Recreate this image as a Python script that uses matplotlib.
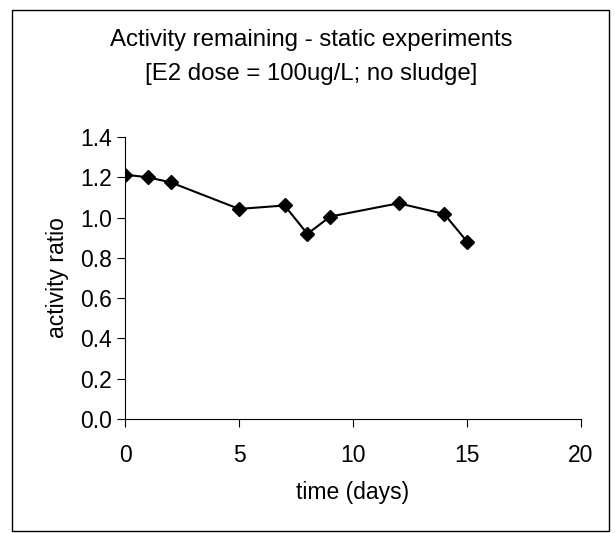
import matplotlib.pyplot as plt
from matplotlib.patches import Rectangle

plt.rcParams['font.family'] = ['Liberation Sans', 'DejaVu Sans']

days = [0, 1, 2, 5, 7, 8, 9, 12, 14, 15]
ratio = [1.213, 1.20, 1.175, 1.043, 1.06, 0.919, 1.005, 1.071, 1.018, 0.881]

fig = plt.figure(figsize=(6.15, 5.33), dpi=100)
fig.patches.append(Rectangle((12 / 615, 2 / 533), 597 / 615, 521 / 533, transform=fig.transFigure,
                             fill=False, edgecolor='black', linewidth=1))
ax = fig.add_axes([125 / 615, 114 / 533, 456 / 615, 282 / 533])
ax.plot(days, ratio, color='black', marker='D', markersize=7, linewidth=1.5)
ax.set_xlim(0, 20)
ax.set_ylim(0, 1.4)
ax.set_xticks([0, 5, 10, 15, 20])
ax.set_yticks([0.0, 0.2, 0.4, 0.6, 0.8, 1.0, 1.2, 1.4])
ax.set_yticklabels([f'{v:.1f}' for v in ax.get_yticks()])
ax.spines['top'].set_visible(False)
ax.spines['right'].set_visible(False)
ax.tick_params(labelsize=16.5, direction='out', length=6)
ax.tick_params(axis='x', pad=12)
ax.set_xlabel('time (days)', fontsize=16.5, labelpad=10)
ax.set_ylabel('activity ratio', fontsize=16.5, labelpad=8)
fig.text(311 / 615, 1 - 57 / 533, 'Activity remaining - static experiments\n[E2 dose = 100ug/L; no sludge]',
         fontsize=17.3, ha='center', va='center', linespacing=1.65)
fig.savefig('out.png')
